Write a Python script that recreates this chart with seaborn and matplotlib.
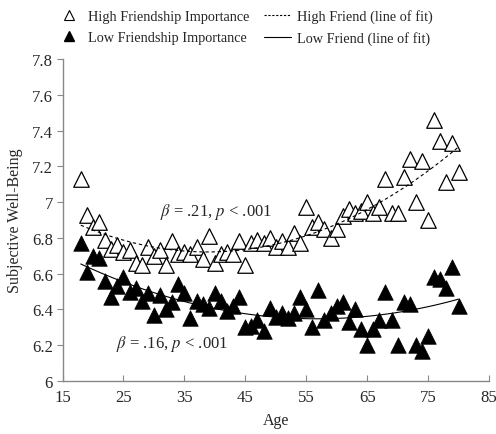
import numpy as np
import pandas as pd
import matplotlib
matplotlib.use("Agg")
import matplotlib.pyplot as plt
import seaborn as sns
from matplotlib.lines import Line2D
from matplotlib.ticker import FuncFormatter

ages = list(range(18, 81))
high_swb = [7.13, 6.93, 6.86, 6.89, 6.79, 6.74, 6.76, 6.72, 6.73, 6.66,
            6.65, 6.75, 6.70, 6.73, 6.65, 6.78, 6.71, 6.72, 6.71, 6.75,
            6.68, 6.81, 6.66, 6.71, 6.72, 6.71, 6.78, 6.65, 6.77, 6.79,
            6.77, 6.80, 6.75, 6.78, 6.75, 6.83, 6.77, 6.97, 6.86, 6.89,
            6.85, 6.80, 6.85, 6.92, 6.96, 6.94, 6.95, 7.00, 6.94, 6.97,
            7.13, 6.94, 6.94, 7.14, 7.24, 7.00, 7.23, 6.90, 7.46, 7.34,
            7.11, 7.33, 7.17]
low_swb = [6.77, 6.61, 6.70, 6.69, 6.56, 6.47, 6.53, 6.58, 6.50, 6.52,
           6.45, 6.49, 6.37, 6.48, 6.40, 6.44, 6.54, 6.49, 6.35, 6.45,
           6.43, 6.41, 6.49, 6.45, 6.39, 6.42, 6.47, 6.30, 6.31, 6.34,
           6.28, 6.41, 6.36, 6.38, 6.35, 6.38, 6.47, 6.40, 6.30, 6.51,
           6.34, 6.38, 6.42, 6.44, 6.33, 6.40, 6.29, 6.20, 6.29, 6.34,
           6.50, 6.34, 6.20, 6.44, 6.43, 6.20, 6.17, 6.25, 6.58, 6.57,
           6.52, 6.64, 6.42]
x_ticks = [15, 25, 35, 45, 55, 65, 75, 85]
y_ticks = [6.0, 6.2, 6.4, 6.6, 6.8, 7.0, 7.2, 7.4, 7.6, 7.8]
legend_labels = ["High Friendship Importance", "Low Friendship Importance",
                 "High Friend (line of fit)", "Low Friend (line of fit)"]
annot_high = r"$\beta$ = .21, $p$ < .001"
annot_low = r"$\beta$ = .16, $p$ < .001"

df = pd.DataFrame({"age": ages, "high": high_swb, "low": low_swb})

sns.set_style("white")
plt.rcParams["font.family"] = ["Liberation Serif", "DejaVu Serif"]
plt.rcParams["mathtext.fontset"] = "stix"

fig = plt.figure(figsize=(4.96, 4.35), dpi=100)
ax = fig.add_axes([62.5 / 496, 1 - 382 / 435, (489 - 62.5) / 496, (382 - 60) / 435])

sns.scatterplot(data=df, x="age", y="high", marker="^", s=125,
                facecolor="white", edgecolor="black", linewidth=0.9, ax=ax, zorder=3)
sns.scatterplot(data=df, x="age", y="low", marker="^", s=125,
                color="black", edgecolor="black", linewidth=0.5, ax=ax, zorder=3)
sns.regplot(data=df, x="age", y="high", order=2, scatter=False, ci=None, ax=ax,
            line_kws=dict(color="black", ls=(0, (3, 2.5)), lw=0.8, zorder=4))
sns.regplot(data=df, x="age", y="low", order=2, scatter=False, ci=None, ax=ax,
            line_kws=dict(color="black", ls="-", lw=0.8, zorder=4))

ax.set_xlim(15, 85)
ax.set_ylim(6.0, 7.8)
ax.set_xticks(x_ticks)
ax.set_yticks(y_ticks)
ax.yaxis.set_major_formatter(FuncFormatter(lambda v, p: f"{v:g}"))
ax.tick_params(axis="x", direction="in", length=4, color="#888888", labelsize=12, pad=6)
ax.tick_params(axis="y", direction="out", length=4, color="#888888", labelsize=12, pad=3)
ax.tick_params(bottom=True, left=True)
for side in ["top", "right"]:
    ax.spines[side].set_visible(False)
for side in ["left", "bottom"]:
    ax.spines[side].set_color("#888888")
    ax.spines[side].set_linewidth(1.0)

ax.set_xlabel("Age", fontsize=11.5, labelpad=5)
ax.set_ylabel("Subjective Well-Being", fontsize=11.5, labelpad=6)

ax.text(31.0, 6.95, annot_high, fontsize=12, va="center", ha="left")
ax.text(23.7, 6.215, annot_low, fontsize=12, va="center", ha="left")

handles = [
    Line2D([], [], marker="^", ls="none", markerfacecolor="white",
           markeredgecolor="black", markersize=7, markeredgewidth=0.8),
    Line2D([], [], marker="^", ls="none", color="black", markersize=7),
    Line2D([], [], color="black", ls=(0, (2, 1.5)), lw=0.8),
    Line2D([], [], color="black", ls="-", lw=0.8),
]
fig.legend(handles, legend_labels, ncol=2, loc="upper left",
           bbox_to_anchor=(48 / 496, 1 - 3 / 435), frameon=False, fontsize=10.3,
           borderpad=0, handlelength=1.88, handletextpad=0.42, columnspacing=1.05,
           labelspacing=0.55)

fig.savefig("out.png", dpi=100)
